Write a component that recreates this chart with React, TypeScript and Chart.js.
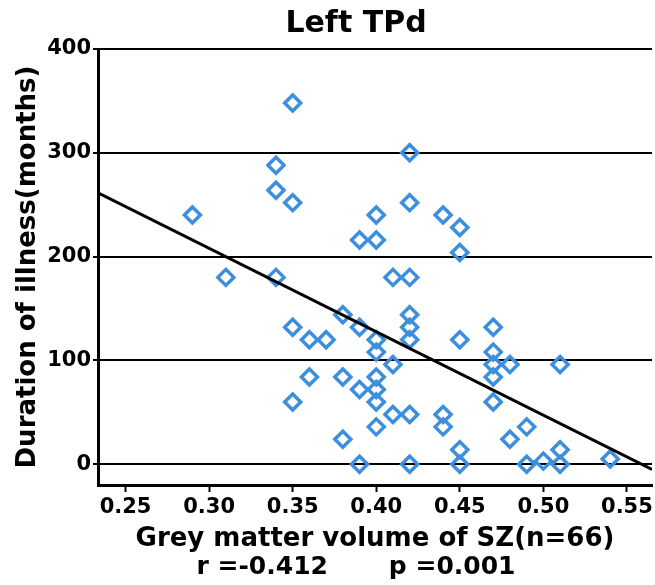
import React, { useEffect, useRef } from 'react';
import { Chart, registerables } from 'chart.js';

Chart.register(...registerables);

// Grey matter volume (x) and duration of illness in months (y), one entry per visible point
const volume = [
  0.29, 0.31,
  0.34, 0.34, 0.34,
  0.35, 0.35, 0.35, 0.35,
  0.36, 0.36,
  0.37,
  0.38, 0.38, 0.38,
  0.39, 0.39, 0.39, 0.39,
  0.40, 0.40, 0.40, 0.40, 0.40, 0.40, 0.40, 0.40,
  0.41, 0.41, 0.41,
  0.42, 0.42, 0.42, 0.42, 0.42, 0.42, 0.42, 0.42,
  0.44, 0.44, 0.44,
  0.45, 0.45, 0.45, 0.45, 0.45,
  0.47, 0.47, 0.47, 0.47, 0.47,
  0.48, 0.48,
  0.49, 0.49,
  0.50,
  0.51, 0.51, 0.51,
  0.54,
];
const duration = [
  240, 180,
  288, 264, 180,
  348, 252, 132, 60,
  120, 84,
  120,
  144, 84, 24,
  216, 132, 72, 0,
  240, 216, 120, 108, 84, 72, 60, 36,
  180, 96, 48,
  300, 252, 180, 144, 132, 120, 48, 0,
  240, 48, 36,
  228, 204, 120, 14, 0,
  132, 108, 96, 84, 60,
  96, 24,
  36, 0,
  3,
  96, 14, 0,
  5,
];

// Fitted regression line: duration = intercept + slope * volume
const fitIntercept = 449.2;
const fitSlope = -804;

const xMin = 0.2335;
const xMax = 0.565;
const xStep = 0.05;
const yMin = -20;
const yMax = 400;
const yStep = 100;

const titleText = 'Left TPd';
const xTitle = 'Grey matter volume of SZ(n=66)';
const yTitle = 'Duration of illness(months)';
const statsText = 'r =-0.412       p =0.001';

const FONT = "'DejaVu Sans', 'Liberation Sans', sans-serif";

export default function App() {
  const ref = useRef<HTMLCanvasElement>(null);

  useEffect(() => {
    if (!ref.current) return;
    const fitLine = [xMin, xMax].map((x) => ({ x, y: fitIntercept + fitSlope * x }));
    const points = volume.map((x, i) => ({ x, y: duration[i] }));

    const chart = new Chart(ref.current, {
      type: 'scatter',
      data: {
        datasets: [
          {
            type: 'line',
            data: fitLine,
            borderColor: '#000000',
            borderWidth: 3,
            pointRadius: 0,
            fill: false,
            order: 0,
          } as any,
          {
            type: 'scatter',
            data: points,
            pointStyle: 'rectRot',
            pointRadius: 8,
            borderWidth: 3.5,
            borderColor: '#3d8fdd',
            backgroundColor: 'rgba(0,0,0,0)',
            order: 1,
          } as any,
        ],
      },
      options: {
        animation: false,
        responsive: true,
        maintainAspectRatio: false,
        layout: { padding: 0 },
        plugins: {
          legend: { display: false },
          tooltip: { enabled: false },
          title: {
            display: true,
            text: titleText,
            color: '#000000',
            font: { family: FONT, size: 30, weight: 'bold' },
            padding: { top: 6, bottom: 7 },
          },
          subtitle: {
            display: true,
            position: 'bottom',
            text: statsText,
            color: '#000000',
            font: { family: FONT, size: 25, weight: 'bold' },
            padding: { top: 0, bottom: 3 },
          },
        },
        scales: {
          x: {
            type: 'linear',
            min: xMin,
            max: xMax,
            ticks: {
              stepSize: xStep,
              includeBounds: false,
              autoSkip: false,
              maxRotation: 0,
              color: '#000000',
              padding: 3,
              font: { family: FONT, size: 21, weight: 'bold' },
              callback: (v: any) => Number(v).toFixed(2),
            },
            grid: {
              drawOnChartArea: false,
              drawTicks: true,
              tickLength: 7,
              tickColor: '#000000',
              tickWidth: 2,
            },
            border: { display: true, color: '#000000', width: 3 },
            title: {
              display: true,
              text: xTitle,
              color: '#000000',
              font: { family: FONT, size: 26, weight: 'bold' },
              padding: { top: 0, bottom: -3 },
            },
            afterFit: (s: any) => {
              s.height = 67;
            },
          },
          y: {
            type: 'linear',
            position: 'left',
            min: yMin,
            max: yMax,
            ticks: {
              stepSize: yStep,
              includeBounds: false,
              color: '#000000',
              padding: 2,
              font: { family: FONT, size: 21, weight: 'bold' },
            },
            grid: {
              color: '#000000',
              lineWidth: 2,
              drawTicks: true,
              tickLength: 5,
              tickColor: '#000000',
            },
            border: { display: true, color: '#000000', width: 3 },
            title: {
              display: true,
              text: yTitle,
              color: '#000000',
              font: { family: FONT, size: 26, weight: 'bold' },
              padding: { top: 12.4, bottom: 0 },
            },
            afterFit: (s: any) => {
              s.width = 98;
            },
          },
          // empty right-hand margin box so the titles centre where the reference has them
          yRight: {
            type: 'linear',
            position: 'right',
            min: yMin,
            max: yMax,
            ticks: { display: false },
            grid: { display: false, drawTicks: false },
            border: { display: false },
            title: { display: false },
            afterFit: (s: any) => {
              s.width = 60;
            },
          },
        },
      } as any,
    });

    return () => chart.destroy();
  }, []);

  return (
    <div style={{ position: 'absolute', left: 0, top: 0, width: 655, height: 585, overflow: 'hidden', background: '#ffffff' }}>
      <div style={{ position: 'absolute', left: 0, top: 0, width: 712, height: 585 }}>
        <canvas ref={ref} />
      </div>
    </div>
  );
}
